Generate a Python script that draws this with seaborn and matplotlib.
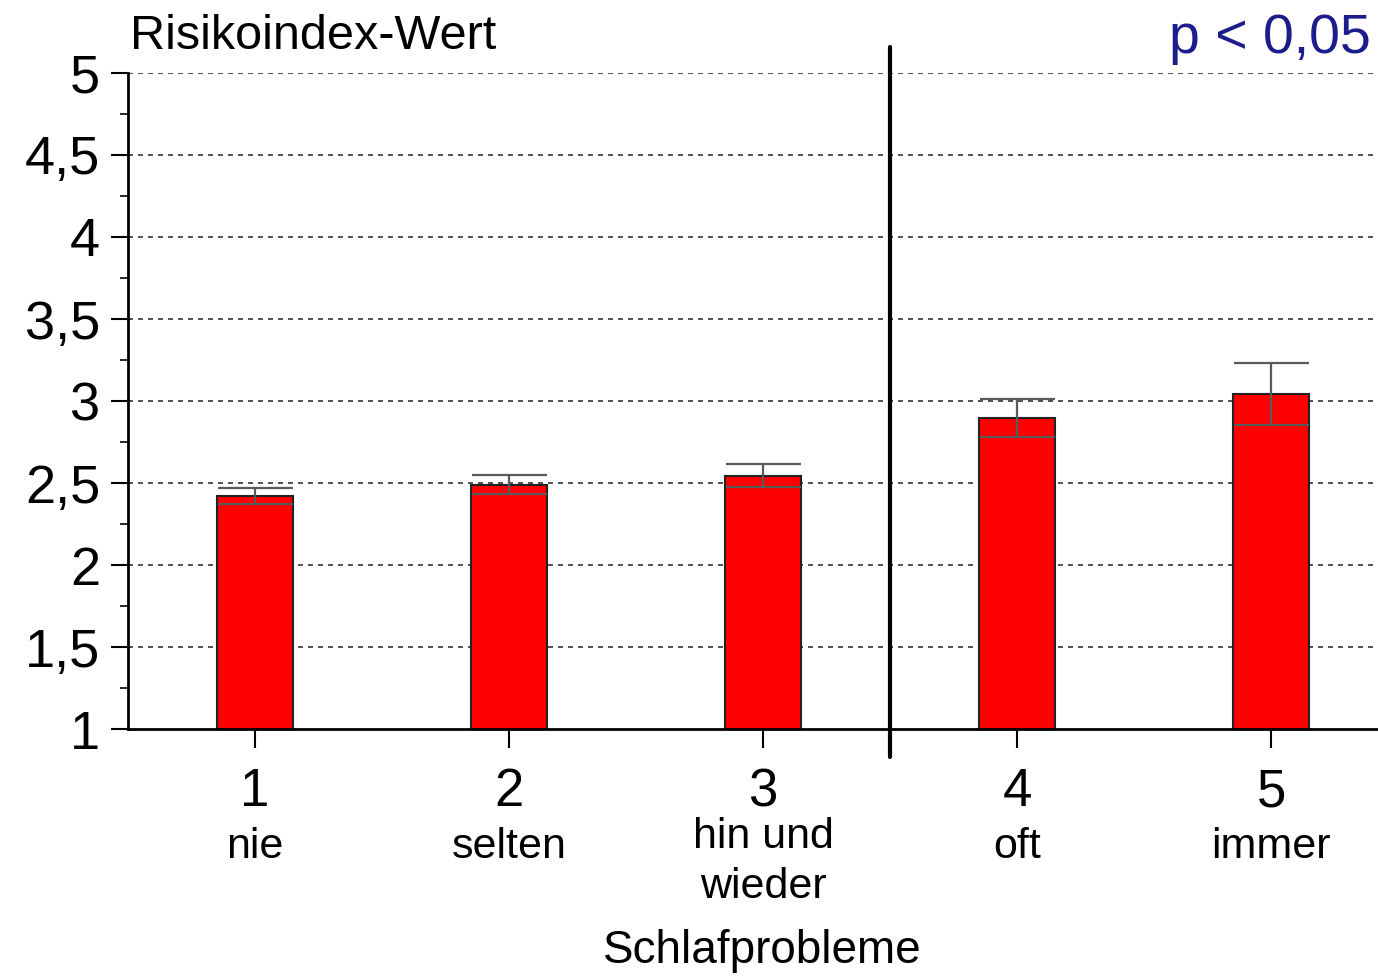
import numpy as np
import pandas as pd
import matplotlib
matplotlib.use("Agg")
import matplotlib.pyplot as plt
import seaborn as sns

# data
codes = ["1", "2", "3", "4", "5"]
labels = ["nie", "selten", "hin und\nwieder", "oft", "immer"]
means = [2.42, 2.49, 2.545, 2.895, 3.043]
errors = [0.05, 0.06, 0.07, 0.115, 0.19]
yticks = [1, 1.5, 2, 2.5, 3, 3.5, 4, 4.5, 5]

sns.set_theme(style="white")
plt.rcParams["font.family"] = ["Liberation Sans", "DejaVu Sans"]
plt.rcParams["text.color"] = "black"
plt.rcParams["ytick.labelcolor"] = "black"

df = pd.DataFrame({"code": codes, "mean": means})

fig = plt.figure(figsize=(13.78, 9.77), dpi=100)
ax = fig.add_axes([0.0929, 0.2538, 0.9071, 0.6715])

# dashed grid behind the bars
for y in yticks[1:]:
    ax.axhline(y, color="#333333", lw=1.2, ls=(0, (3, 3)), zorder=0)

sns.barplot(data=df, x="code", y="mean", color="#ff0000", edgecolor="#222222",
            linewidth=1.5, width=0.3, saturation=1, ax=ax, zorder=2)
ax.errorbar(np.arange(len(means)), means, yerr=errors, fmt="none",
            ecolor="#5a5a5a", elinewidth=1.6, capsize=27, capthick=1.6, zorder=3)

ax.set_xlim(-0.5, 4.42)
ax.set_ylim(1, 5)
ax.set_yticks(yticks)
ax.set_yticklabels([f"{v:g}".replace(".", ",") for v in yticks], fontsize=39,
                   color="black")
ax.set_yticks(np.arange(1, 5.01, 0.25), minor=True)
ax.set_xticks(range(len(codes)))
ax.set_xticklabels([""] * len(codes))
ax.tick_params(axis="y", which="major", direction="out", length=12, width=1.5,
               color="black", left=True, pad=8)
ax.tick_params(axis="y", which="minor", direction="out", length=6, width=1.2,
               color="black", left=True)
ax.tick_params(axis="x", direction="out", length=14, width=1.5, color="black",
               bottom=True)

# two-level category labels
for i, (c, l) in enumerate(zip(codes, labels)):
    ax.text(i, 0.615, c, ha="center", va="center", fontsize=38,
            transform=ax.transData, clip_on=False)
    ax.text(i, 0.28 if "\n" not in l else 0.19, l, ha="center", va="center",
            fontsize=31, linespacing=1.3, transform=ax.transData, clip_on=False)

ax.set_xlabel("")
ax.set_ylabel("")
fig.text(0.553, 0.027, "Schlafprobleme", ha="center", va="center", fontsize=33)

for side in ["top", "right"]:
    ax.spines[side].set_visible(False)
for side in ["left", "bottom"]:
    ax.spines[side].set_color("black")
    ax.spines[side].set_linewidth(2)

# separator between groups
ax.plot([2.5, 2.5], [0.83, 5.16], color="black", lw=3, clip_on=False, zorder=4)

fig.text(0.094, 0.963, "Risikoindex-Wert", ha="left", va="center", fontsize=35)
fig.text(0.995, 0.96, "p < 0,05", ha="right", va="center", fontsize=40,
         color="#1c1c8c")

fig.savefig("out.png", dpi=100, facecolor="white")
